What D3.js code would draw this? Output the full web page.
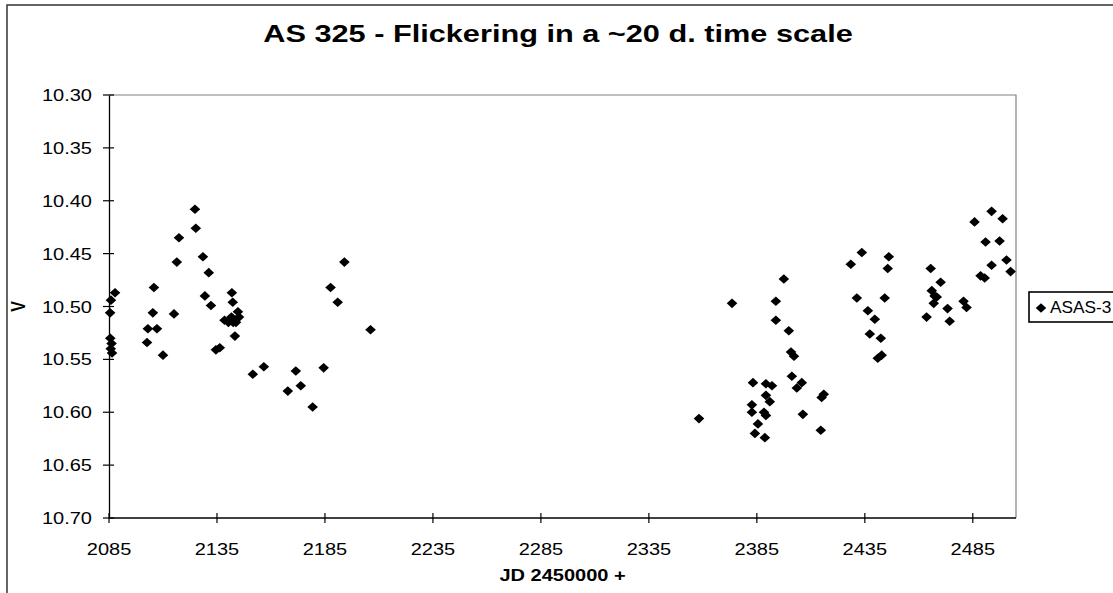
<!DOCTYPE html>
<html><head><meta charset="utf-8">
<script src="https://cdn.jsdelivr.net/npm/d3@7"></script>
<style>body{margin:0;background:#fff;overflow:hidden}svg{display:block}</style>
</head><body><svg id="c" width="1113" height="593"></svg>
<script>
const chartTitle = "AS 325 - Flickering in a ~20 d. time scale";
const xTitle = "JD 2450000 +";
const yTitle = "V";
const seriesName = "ASAS-3";
const xTicks = [2085, 2135, 2185, 2235, 2285, 2335, 2385, 2435, 2485];
const yTicks = [10.30, 10.35, 10.40, 10.45, 10.50, 10.55, 10.60, 10.65, 10.70];
const jd = [
 2085.5,2085.9,2087.8,2085.6,2086.2,2085.8,2086.4,2103.0,2102.6,2105.3,2105.8,2107.2,2110.0,2115.1,2116.4,2117.4,
 2124.8,2125.2,2128.5,2129.4,2131.2,2132.2,2134.5,2136.3,2138.5,2140.3,2141.7,2142.5,2143.8,2144.7,2145.2,2141.9,
 2142.3,2143.3,2151.6,2156.7,2167.8,2171.5,2173.8,2179.3,2184.4,2187.6,2190.9,2194.0,2206.1,
 2358.2,2373.5,2383.2,2389.2,2392.0,2389.2,2391.0,2382.7,2382.7,2388.3,2389.2,2385.5,2384.1,2388.7,2393.8,2393.8,
 2397.5,2399.8,2400.8,2402.2,2401.2,2403.5,2405.8,2406.3,2414.6,2415.0,2416.0,2428.5,2431.3,2433.6,2436.4,2439.6,
 2437.3,2442.4,2442.8,2441.0,2444.2,2445.6,2446.1,2463.6,2465.5,2466.0,2467.3,2468.3,2466.9,2470.1,2473.3,2474.3,
 2480.7,2482.1,2485.8,2488.6,2490.5,2490.9,2493.7,2493.7,2497.4,2498.8,2500.6,2502.5
];
const vmag = [
 10.506,10.494,10.487,10.530,10.535,10.540,10.544,10.521,10.534,10.506,10.482,10.521,10.546,10.507,10.458,10.435,
 10.408,10.426,10.453,10.490,10.468,10.499,10.541,10.539,10.513,10.515,10.510,10.515,10.515,10.505,10.510,10.487,
 10.496,10.528,10.564,10.557,10.580,10.561,10.575,10.595,10.558,10.482,10.496,10.458,10.522,
 10.606,10.497,10.572,10.573,10.575,10.584,10.590,10.593,10.600,10.600,10.603,10.611,10.620,10.624,10.495,10.513,
 10.474,10.523,10.543,10.547,10.566,10.577,10.572,10.602,10.617,10.586,10.583,10.460,10.492,10.449,10.504,10.512,
 10.526,10.530,10.546,10.549,10.492,10.464,10.453,10.510,10.464,10.485,10.490,10.491,10.497,10.477,10.502,10.514,
 10.495,10.501,10.420,10.471,10.473,10.439,10.461,10.410,10.438,10.417,10.456,10.467
];

const svg = d3.select("#c");
const L = 109, R = 1016, T = 95, B = 518;
const x = d3.scaleLinear().domain([2085, 2505]).range([L, R]);
const y = d3.scaleLinear().domain([10.30, 10.70]).range([T, B]);
const SX = 1.25;
const font = "'Liberation Sans', Arial, sans-serif";

function stext(px, py, str, size, weight, anchor, sx) {
  return svg.append("text")
    .attr("transform", `translate(${px},${py}) scale(${sx},1)`)
    .attr("text-anchor", anchor)
    .attr("font-family", font)
    .attr("font-size", size)
    .attr("font-weight", weight)
    .attr("fill", "#000")
    .text(str);
}

// outer chart border
svg.append("path").attr("d", "M7,600 L7,5 L1120,5").attr("fill", "none").attr("stroke", "#333").attr("stroke-width", 1.5);

// plot area border (top/right gray)
svg.append("path").attr("d", `M${L},${T} L${R},${T} L${R},${B}`).attr("fill", "none").attr("stroke", "#808080").attr("stroke-width", 1.2);

// axes
const yAxis = d3.axisLeft(y).tickValues(yTicks).tickSize(0).tickFormat("");
svg.append("g").attr("transform", `translate(${L},0)`).call(yAxis).call(g => g.select(".domain").attr("stroke", "#000").attr("stroke-width", 1.3));
const xAxis = d3.axisBottom(x).tickValues(xTicks).tickSize(0).tickFormat("");
svg.append("g").attr("transform", `translate(0,${B})`).call(xAxis).call(g => g.select(".domain").attr("stroke", "#000").attr("stroke-width", 1.3).attr("d", `M${L},0H${R}`));

// cross ticks
svg.append("g").selectAll("line").data(yTicks).join("line")
  .attr("x1", L - 6).attr("x2", L + 5).attr("y1", d => y(d)).attr("y2", d => y(d))
  .attr("stroke", "#000").attr("stroke-width", 1.2);
svg.append("g").selectAll("line").data(xTicks).join("line")
  .attr("x1", d => x(d)).attr("x2", d => x(d)).attr("y1", B - 5).attr("y2", B + 5)
  .attr("stroke", "#000").attr("stroke-width", 1.2);

// tick labels
yTicks.forEach(t => stext(92, y(t) + 6, t.toFixed(2), 16, "normal", "end", SX));
xTicks.forEach(t => stext(x(t), 555, String(t), 16, "normal", "middle", SX));

// titles
stext(558, 42, chartTitle, 24, "bold", "middle", 1.28);
stext((L + R) / 2, 581, xTitle, 16, "bold", "middle", SX);
svg.append("text")
  .attr("transform", `translate(25,${(T + B) / 2}) rotate(-90) scale(1,1.25)`)
  .attr("text-anchor", "middle").attr("font-family", font).attr("font-size", 16).attr("font-weight", "bold")
  .text(yTitle);

// points
const diamond = "M0,-4.8L5.3,0L0,4.8L-5.3,0Z";
svg.append("g").selectAll("path").data(jd.map((d, i) => [d, vmag[i]])).join("path")
  .attr("d", diamond)
  .attr("transform", d => `translate(${x(d[0])},${y(d[1])})`)
  .attr("fill", "#000");

// legend
svg.append("rect").attr("x", 1029).attr("y", 292).attr("width", 120).attr("height", 30)
  .attr("fill", "#fff").attr("stroke", "#000").attr("stroke-width", 1.6);
svg.append("path").attr("d", diamond).attr("transform", "translate(1041,308)").attr("fill", "#000");
stext(1050, 313, seriesName, 16, "normal", "start", 1.08);
</script>
</body></html>
